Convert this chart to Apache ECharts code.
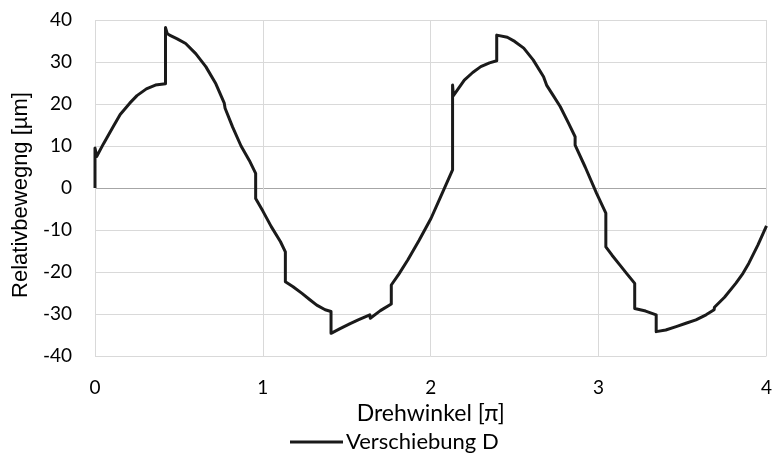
<!DOCTYPE html>
<html>
<head>
<meta charset="utf-8">
<script src="https://cdn.jsdelivr.net/npm/echarts@6/dist/echarts.min.js"></script>
<style>
html,body{margin:0;padding:0;background:#fff;}
#chart{width:775px;height:458px;}
</style>
</head>
<body>
<div id="chart"></div>
<script>
// Drehwinkel [π]
const angles = [
0, 0, 0.01, 0.05, 0.108, 0.15, 0.207, 0.25, 0.306, 0.36, 0.42,
0.42, 0.43, 0.444, 0.49, 0.54, 0.6, 0.66, 0.72, 0.77, 0.775, 0.82, 0.87, 0.92, 0.957,
0.957, 1.0, 1.05, 1.105, 1.134,
1.134, 1.18, 1.233, 1.28, 1.321, 1.371, 1.406,
1.406, 1.46, 1.52, 1.568, 1.637, 1.64, 1.70, 1.765,
1.765, 1.81, 1.864, 1.93, 2.002, 2.06, 2.13,
2.13, 2.135, 2.2, 2.25, 2.298, 2.35, 2.393,
2.393, 2.456, 2.5, 2.554, 2.61, 2.672, 2.69, 2.73, 2.771, 2.82, 2.86,
2.86, 2.92, 2.988, 3.043,
3.043, 3.08, 3.126, 3.17, 3.215,
3.215, 3.28, 3.343,
3.343, 3.40, 3.462, 3.52, 3.58, 3.64, 3.688, 3.69, 3.75, 3.817, 3.86, 3.895, 3.95, 4.0
];
// Verschiebung D [µm]
const displacement = [
0, 9.5, 7.5, 10.5, 14.6, 17.5, 20.2, 22, 23.6, 24.5, 24.8,
38.2, 36.8, 36.4, 35.5, 34.4, 32, 28.9, 24.8, 20.2, 19, 14.5, 10, 6.5, 3.5,
-2.5, -5.5, -9.2, -12.8, -15.2,
-22.3, -23.5, -25.1, -26.6, -27.9, -29, -29.4,
-34.6, -33.5, -32.3, -31.4, -30.2, -31, -29.2, -27.6,
-23.1, -20.5, -17.1, -12.5, -7.2, -2, 4.3,
24.5, 22, 25.7, 27.5, 28.9, 29.8, 30.3,
36.4, 35.9, 34.9, 33.3, 30.5, 26.5, 24.5, 22, 19.4, 15.5, 12.2,
10.2, 5, -1.3, -6,
-14, -16, -18.3, -20.5, -22.7,
-28.7, -29.3, -30.2,
-34.2, -33.8, -33, -32.2, -31.4, -30.2, -29, -28.4, -26, -22.7, -20.3, -17.9, -13.5, -9
];
const seriesName = 'Verschiebung D';
const xTitle = 'Drehwinkel [π]';
const yTitle = 'Relativbewegng [µm]';

const data = angles.map((a, i) => [a, displacement[i]]);
const grid = '#d9d9d9';
const zeroLine = '#a6a6a6';

const chart = echarts.init(document.getElementById('chart'), null, {renderer: 'canvas'});
chart.setOption({
  animation: false,
  backgroundColor: '#fff',
  grid: {left: 95, right: 6, top: 20, bottom: 102, containLabel: false},
  xAxis: {
    type: 'value', min: 0, max: 4, interval: 1,
    name: xTitle, nameLocation: 'middle', nameGap: 40,
    nameTextStyle: {fontFamily: 'Lato', fontSize: 23, color: '#000'},
    axisLine: {show: false}, axisTick: {show: false},
    axisLabel: {fontFamily: 'Lato', fontSize: 19, color: '#000', margin: 22},
    splitLine: {show: true, lineStyle: {color: grid, width: 1}}
  },
  yAxis: {
    type: 'value', min: -40, max: 40, interval: 10,
    name: yTitle, nameLocation: 'middle', nameGap: 61, nameRotate: 90,
    nameTextStyle: {fontFamily: 'Liberation Sans', fontSize: 22, color: '#000', padding: [0, 14, 0, 0]},
    axisLine: {show: false}, axisTick: {show: false},
    axisLabel: {fontFamily: 'Lato', fontSize: 19, color: '#000', margin: 23},
    splitLine: {show: true, lineStyle: {color: [grid, grid, grid, grid, zeroLine, grid, grid, grid, grid], width: 1}}
  },
  legend: {
    show: true, left: 290, top: 431, padding: 0,
    icon: 'rect', itemWidth: 53, itemHeight: 3, itemGap: 10,
    textStyle: {fontFamily: 'Lato', fontSize: 22, color: '#000', padding: [0,0,0,-2]},
    data: [seriesName]
  },
  series: [{
    name: seriesName, type: 'line', data: data,
    showSymbol: false, symbol: 'none',
    lineStyle: {color: '#1a1a1a', width: 3, join: 'round'},
    itemStyle: {color: '#1a1a1a'}
  }]
});
</script>
</body>
</html>
